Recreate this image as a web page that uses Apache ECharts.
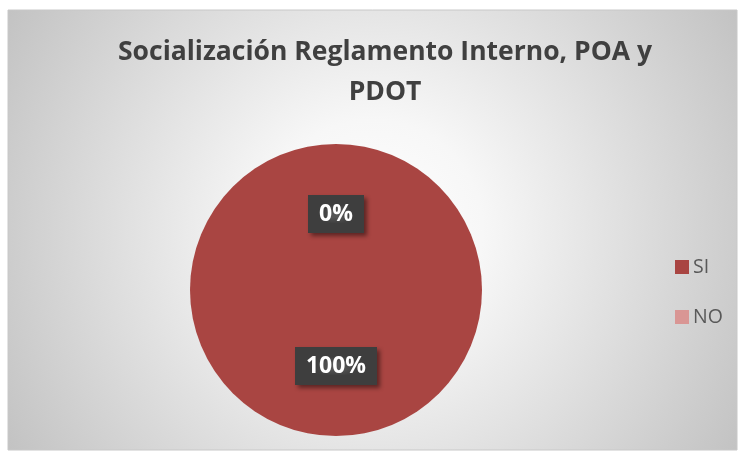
<!DOCTYPE html>
<html>
<head>
<meta charset="utf-8">
<script src="https://cdn.jsdelivr.net/npm/echarts@6/dist/echarts.min.js"></script>
<style>
  html, body { margin: 0; padding: 0; background: #fff; }
  #container { width: 742px; height: 457px; }
</style>
</head>
<body>
<div id="container"></div>
<script>
var titleText = 'Socialización Reglamento Interno, POA y\nPDOT';
var categories = ['SI', 'NO'];
var values = [100, 0];
var colors = ['#A94542', '#D99694'];

var data = [];
for (var i = 0; i < categories.length; i++) {
    data.push({ name: categories[i], value: values[i], itemStyle: { color: colors[i] } });
}

// dotted dark background for the labels
var pat = document.createElement('canvas');
pat.width = 6;
pat.height = 6;
var pctx = pat.getContext('2d');
pctx.fillStyle = '#3e3e3e';
pctx.fillRect(0, 0, 6, 6);
pctx.fillStyle = '#555555';
pctx.fillRect(2, 2, 2, 2);

var dom = document.getElementById('container');
var myChart = echarts.init(dom);
var option = {
    animation: false,
    graphic: [
        {
            type: 'rect',
            z: -10,
            shape: { x: 8, y: 10, width: 729, height: 440 },
            style: {
                fill: {
                    type: 'radial', x: 0.5, y: 0.5, r: 1.0,
                    colorStops: [
                        { offset: 0, color: '#ffffff' },
                        { offset: 0.25, color: '#f7f7f7' },
                        { offset: 1, color: '#c0c0c0' }
                    ]
                },
                stroke: '#c8c8c8',
                lineWidth: 1
            }
        }
    ],
    title: {
        text: titleText,
        left: 380,
        top: 27,
        textAlign: 'center',
        textStyle: {
            fontFamily: 'Open Sans',
            fontWeight: 'bold',
            fontSize: 26.5,
            lineHeight: 40,
            color: '#404040'
        }
    },
    legend: {
        orient: 'vertical',
        left: 675,
        top: 257,
        padding: 0,
        itemWidth: 14,
        itemHeight: 14,
        itemGap: 30,
        icon: 'rect',
        data: categories,
        textStyle: { fontFamily: 'Open Sans', fontSize: 19.5, lineHeight: 16, color: '#595959', padding: [0, 0, 0, -1] }
    },
    series: [
        {
            name: 'Socialización',
            type: 'pie',
            radius: 146,
            center: [336, 290],
            startAngle: 90,
            clockwise: true,
            stillShowZeroSum: true,
            data: data,
            label: {
                show: true,
                position: 'inside',
                formatter: '{d}%',
                fontFamily: 'Open Sans',
                fontWeight: 'bold',
                fontSize: 23,
                color: '#ffffff',
                backgroundColor: { image: pat, repeat: 'repeat' },
                padding: [8, 11, 7, 11],
                shadowColor: 'rgba(0,0,0,0.45)',
                shadowBlur: 4,
                shadowOffsetX: 3,
                shadowOffsetY: 3
            },
            labelLine: { show: false },
            emphasis: { disabled: true }
        }
    ]
};
if (option && typeof option === 'object') {
    myChart.setOption(option, true);
}
</script>
</body>
</html>
